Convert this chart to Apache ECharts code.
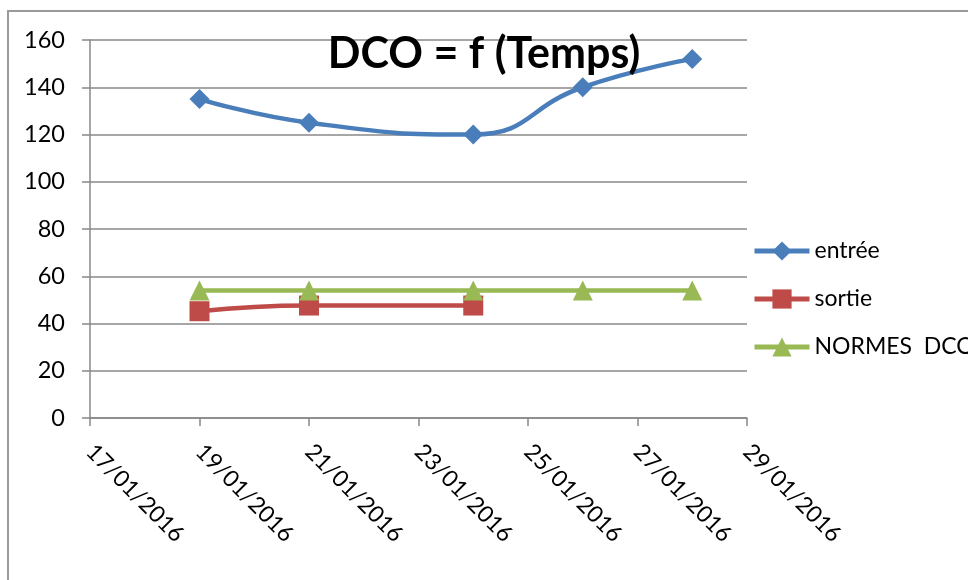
<!DOCTYPE html>
<html>
<head>
<meta charset="utf-8">
<script src="https://cdn.jsdelivr.net/npm/echarts@6/dist/echarts.min.js"></script>
<style>
  html, body { margin: 0; padding: 0; background: #ffffff; }
  #chart { width: 968px; height: 580px; }
</style>
</head>
<body>
<div id="chart"></div>
<script>
// ---- data ----
const baseDate = '17/01/2016';
const xTickLabels = ['17/01/2016', '19/01/2016', '21/01/2016', '23/01/2016', '25/01/2016', '27/01/2016', '29/01/2016'];
const entreeDates = ['19/01/2016', '21/01/2016', '24/01/2016', '26/01/2016', '28/01/2016'];
const entreeValues = [135, 125, 120, 140, 152];
const sortieDates = ['19/01/2016', '21/01/2016', '24/01/2016'];
const sortieValues = [45.2, 47.6, 47.6];
const normesDates = ['19/01/2016', '21/01/2016', '24/01/2016', '26/01/2016', '28/01/2016'];
const normesValues = [54, 54, 54, 54, 54];
const seriesNames = ['entrée', 'sortie', 'NORMES  DCO'];
const titleText = 'DCO = f (Temps)';

// ---- helpers ----
function toUTC(s) {
  const p = s.split('/');
  return Date.UTC(+p[2], +p[1] - 1, +p[0]);
}
function dayOffset(s) {
  return Math.round((toUTC(s) - toUTC(baseDate)) / 86400000);
}
function pairs(dates, vals) {
  return dates.map((d, i) => [dayOffset(d), vals[i]]);
}

const FONT = 'Lato, "Open Sans", sans-serif';
const GRAY = '#888888';

const chart = echarts.init(document.getElementById('chart'), null, { renderer: 'canvas' });
chart.setOption({
  backgroundColor: '#ffffff',
  animation: false,
  title: {
    text: titleText,
    left: 'center',
    top: 28,
    textStyle: { fontFamily: FONT, fontSize: 43, fontWeight: 'bold', color: '#000000' }
  },
  graphic: [{
    type: 'rect',
    shape: { x: 8, y: 11, width: 1200, height: 1200 },
    style: { fill: 'none', stroke: '#9a9a9a', lineWidth: 2 },
    silent: true,
    z: -1
  }],
  legend: {
    orient: 'vertical',
    left: 752,
    top: 239,
    padding: 0,
    itemWidth: 55,
    itemHeight: 24,
    itemGap: 24,
    data: seriesNames,
    lineStyle: { width: 5 },
    textStyle: { fontFamily: FONT, fontSize: 23, color: '#000000', lineHeight: 24 }
  },
  grid: { left: 90, right: 221, top: 40, bottom: 162, containLabel: false },
  xAxis: {
    type: 'value',
    min: 0,
    max: 12,
    interval: 2,
    axisLine: { show: true, lineStyle: { color: GRAY, width: 1.5 } },
    axisTick: { show: true, length: 8, lineStyle: { color: GRAY, width: 1.5 } },
    splitLine: { show: false },
    axisLabel: {
      rotate: -45,
      margin: 30,
      fontFamily: FONT,
      fontSize: 23,
      color: '#000000',
      formatter: v => xTickLabels[Math.round(v / 2)] || ''
    }
  },
  yAxis: {
    type: 'value',
    min: 0,
    max: 160,
    interval: 20,
    axisLine: { show: true, lineStyle: { color: GRAY, width: 1.5 } },
    axisTick: { show: true, length: 8, lineStyle: { color: GRAY, width: 1.5 } },
    splitLine: { show: true, lineStyle: { color: GRAY, width: 1.5 } },
    axisLabel: { margin: 25, fontFamily: FONT, fontSize: 23.5, color: '#000000' }
  },
  series: [
    {
      name: seriesNames[0],
      type: 'line',
      smooth: 0.5,
      data: pairs(entreeDates, entreeValues),
      symbol: 'diamond',
      symbolSize: 20,
      lineStyle: { color: '#4A7EBB', width: 4.5 },
      itemStyle: { color: '#4A7EBB' }
    },
    {
      name: seriesNames[1],
      type: 'line',
      smooth: 0.5,
      data: pairs(sortieDates, sortieValues),
      symbol: 'rect',
      symbolSize: 20,
      lineStyle: { color: '#BE4B48', width: 4.5 },
      itemStyle: { color: '#BE4B48' }
    },
    {
      name: seriesNames[2],
      type: 'line',
      smooth: 0.5,
      data: pairs(normesDates, normesValues),
      symbol: 'triangle',
      symbolSize: 20,
      lineStyle: { color: '#98B954', width: 4.5 },
      itemStyle: { color: '#98B954' }
    }
  ]
});
</script>
</body>
</html>
